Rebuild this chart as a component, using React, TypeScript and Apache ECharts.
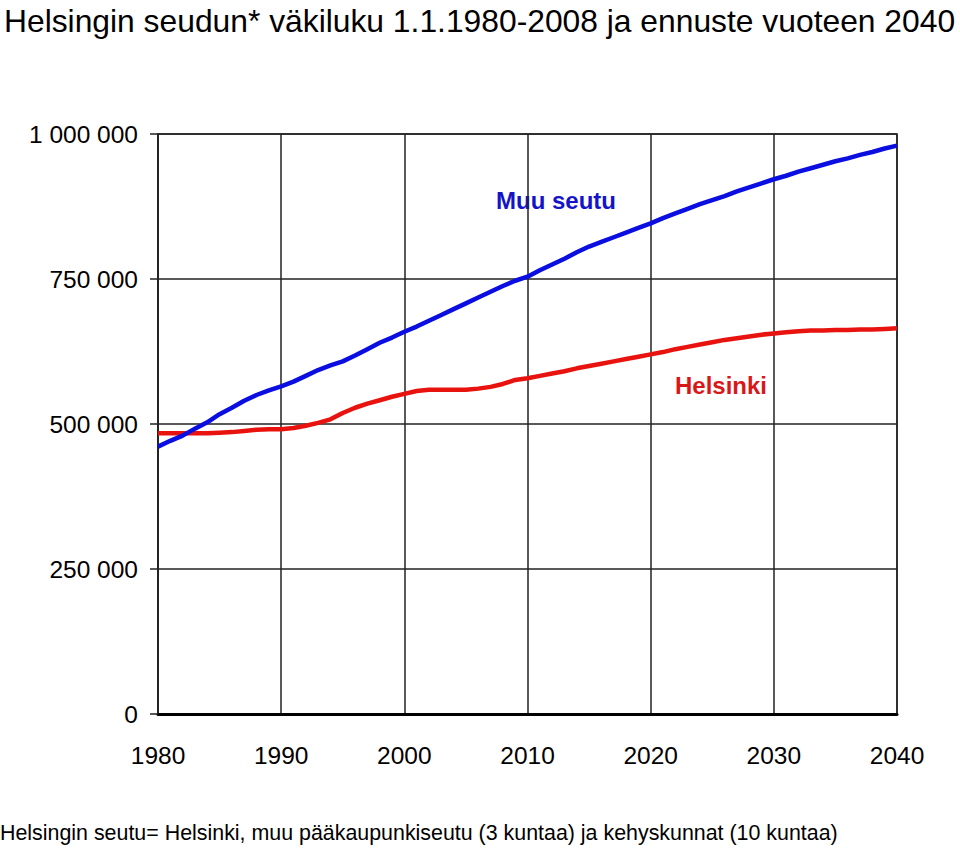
import React, { useEffect, useRef } from "react";
import * as echarts from "echarts";

const years: number[] = [];
for (let y = 1980; y <= 2040; y++) years.push(y);

// Helsinki population (thousands), 1980..2040
const helsinki = [
  484, 484, 484, 484, 484, 485, 486, 488, 490, 491,
  491, 493, 497, 502, 508, 519, 528, 535, 541, 547,
  552, 557, 559, 559, 559, 559, 561, 564, 569, 576,
  579, 583, 587, 591, 596, 600, 604, 608, 612, 616,
  620, 624, 629, 633, 637, 641, 645, 648, 651, 654,
  656, 658, 660, 661, 661, 662, 662, 663, 663, 664,
  665,
];

// Muu seutu population (thousands), 1980..2040
const muuSeutu = [
  461, 471, 480, 492, 503, 517, 528, 540, 550, 558,
  565, 573, 583, 593, 601, 608, 618, 629, 640, 649,
  659, 668, 678, 688, 698, 708, 718, 728, 738, 747,
  754, 765, 775, 785, 796, 806, 814, 822, 830, 838,
  846, 855, 863, 871, 879, 886, 893, 901, 908, 915,
  922, 928, 935, 941, 947, 953, 958, 964, 969, 975,
  980,
];

const titleText = "Helsingin seudun* väkiluku 1.1.1980-2008 ja ennuste vuoteen 2040";
const footnoteText =
  "Helsingin seutu= Helsinki, muu pääkaupunkiseutu (3 kuntaa) ja kehyskunnat (10 kuntaa)";

const fmt = (v: number) =>
  v === 0 ? "0" : String(Math.round(v)).replace(/\B(?=(\d{3})+(?!\d))/g, " ");

export default function App() {
  const ref = useRef<HTMLDivElement>(null);
  useEffect(() => {
    document.body.style.margin = "0";
    if (!ref.current) return;
    const chart = echarts.init(ref.current, undefined, { renderer: "svg" });
    const font = "Liberation Sans, Arial, sans-serif";
    chart.setOption({
      animation: false,
      backgroundColor: "#ffffff",
      textStyle: { fontFamily: font },
      title: {
        text: titleText,
        left: -1,
        top: 0,
        textStyle: { fontSize: 31.8, fontWeight: "normal", color: "#000", fontFamily: font },
      },
      grid: {
        left: 158,
        right: 63,
        top: 134,
        bottom: 136,
        show: true,
        borderColor: "#222",
        borderWidth: 1.5,
      },
      xAxis: {
        type: "value",
        min: 1980,
        max: 2040,
        interval: 10,
        axisLine: { show: true, onZero: false, lineStyle: { color: "#000", width: 3 } },
        axisTick: { show: false },
        axisLabel: {
          color: "#000",
          fontSize: 24.5,
          margin: 29,
          fontFamily: font,
          formatter: (v: number) => String(v),
        },
        splitLine: { show: true, lineStyle: { color: "#222", width: 1.5 } },
      },
      yAxis: {
        type: "value",
        min: 0,
        max: 1000000,
        interval: 250000,
        axisLine: { show: true, lineStyle: { color: "#222", width: 1.5 } },
        axisTick: { show: true, length: 8, lineStyle: { color: "#222", width: 1.5 } },
        axisLabel: {
          color: "#000",
          fontSize: 24.5,
          margin: 20,
          fontFamily: font,
          formatter: fmt,
        },
        splitLine: { show: true, lineStyle: { color: "#222", width: 1.5 } },
      },
      series: [
        {
          name: "Helsinki",
          type: "line",
          data: years.map((y, i) => [y, helsinki[i] * 1000]),
          showSymbol: false,
          lineStyle: { color: "#e8130f", width: 4.5 },
          itemStyle: { color: "#e8130f" },
          z: 3,
        },
        {
          name: "Muu seutu",
          type: "line",
          data: years.map((y, i) => [y, muuSeutu[i] * 1000]),
          showSymbol: false,
          lineStyle: { color: "#0a0ee0", width: 4.5 },
          itemStyle: { color: "#0a0ee0" },
          z: 4,
        },
      ],
      graphic: [
        {
          type: "text",
          left: 496,
          top: 188,
          style: {
            text: "Muu seutu",
            fill: "#1414c8",
            font: `bold 24px ${font}`,
          },
        },
        {
          type: "text",
          left: 675,
          top: 373,
          style: {
            text: "Helsinki",
            fill: "#d81818",
            font: `bold 24px ${font}`,
          },
        },
        {
          type: "text",
          left: 0,
          top: 822,
          style: {
            text: footnoteText,
            fill: "#000",
            font: `21.4px ${font}`,
          },
        },
      ],
    });
    return () => chart.dispose();
  }, []);
  return <div ref={ref} style={{ width: 960, height: 850 }} />;
}
